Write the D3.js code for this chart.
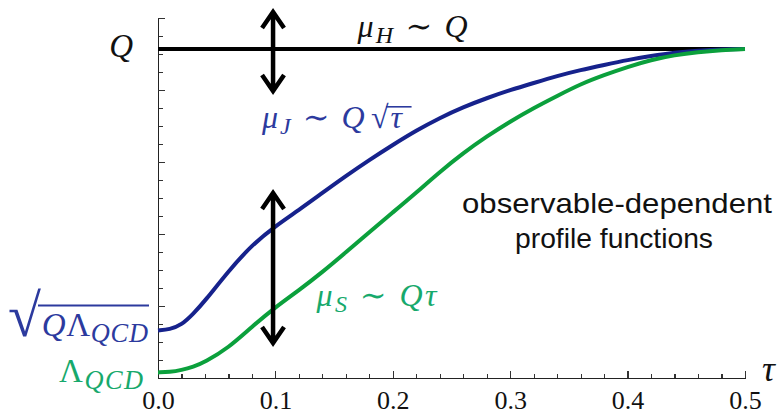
<!DOCTYPE html>
<html>
<head>
<meta charset="utf-8">
<title>Profile functions</title>
<script src="https://d3js.org/d3.v7.min.js"></script>
<style>
  body { margin: 0; background: #fff; }
  svg { display: block; background: #fff; }
  .axis path, .axis line { fill: none; stroke: #222; shape-rendering: crispEdges; }
  .axis path { stroke-width: 1.5px; }
  .axis line { stroke: #333; stroke-width: 1.2px; }
  .axis text { font: 26px "Liberation Serif", "Times New Roman", serif; fill: #111; }
  .math { font-family: "Liberation Serif", "Times New Roman", "DejaVu Serif", serif; }
  .note { font: 28px "Liberation Sans", Arial, sans-serif; fill: #111; }
  .curve { fill: none; stroke-width: 4px; }
</style>
</head>
<body>
<div id="chart"></div>
<script>
// values (y in arbitrary units, 0..20 along the axis)
var tau = [0, 0.01, 0.02, 0.03, 0.04, 0.06, 0.08, 0.10, 0.12, 0.14, 0.16, 0.18, 0.20, 0.22,
           0.24, 0.26, 0.28, 0.30, 0.32, 0.34, 0.36, 0.38, 0.40, 0.42, 0.44, 0.46, 0.48, 0.50];
var muJ = [2.64, 2.70, 2.94, 3.56, 4.28, 5.94, 7.39, 8.44, 9.33, 10.28, 11.22, 12.11, 12.95, 13.75,
           14.45, 15.05, 15.55, 16.00, 16.39, 16.78, 17.11, 17.39, 17.67, 17.89, 18.08, 18.19, 18.26, 18.28];
var muS = [0.31, 0.33, 0.44, 0.62, 0.89, 1.67, 2.85, 3.94, 4.87, 5.88, 6.98, 8.10, 9.20, 10.30,
           11.45, 12.50, 13.42, 14.25, 15.00, 15.67, 16.33, 16.83, 17.28, 17.67, 17.94, 18.11, 18.22, 18.28];
var tauH = [0, 0.5];
var muH = [18.28, 18.28];

var xMajor = [0, 0.1, 0.2, 0.3, 0.4, 0.5];
var xTickLabels = ["0.0", "0.1", "0.2", "0.3", "0.4", "0.5"];
var yMajor = [4, 8, 12, 16, 20];

var width = 782, height = 414;
var margin = {top: 18, right: 37, bottom: 36, left: 158};

var x = d3.scaleLinear().domain([0, 0.5]).range([margin.left, width - margin.right]);
var y = d3.scaleLinear().domain([0, 20]).range([height - margin.bottom, margin.top]);

var svg = d3.select("#chart").append("svg")
  .attr("width", width)
  .attr("height", height);

// axes
var xMinor = d3.range(0.02, 0.5, 0.02).filter(function (d) { return Math.abs(d * 10 - Math.round(d * 10)) > 1e-6; });
var yMinor = d3.range(1, 20, 1).filter(function (d) { return d % 4 !== 0; });

svg.append("g")
  .attr("class", "axis")
  .attr("transform", "translate(0," + y(0) + ")")
  .call(d3.axisBottom(x).tickValues(xMinor).tickFormat("").tickSizeInner(-4).tickSizeOuter(0))
  .call(function (g) { g.select(".domain").remove(); });

svg.append("g")
  .attr("class", "axis")
  .attr("transform", "translate(0," + y(0) + ")")
  .call(d3.axisBottom(x).tickValues(xMajor)
    .tickFormat(function (d, i) { return xTickLabels[i]; })
    .tickSizeInner(-7).tickSizeOuter(0).tickPadding(13));

svg.append("g")
  .attr("class", "axis")
  .attr("transform", "translate(" + x(0) + ",0)")
  .call(d3.axisLeft(y).tickValues(yMinor).tickFormat("").tickSizeInner(-5).tickSizeOuter(0))
  .call(function (g) { g.select(".domain").remove(); });

svg.append("g")
  .attr("class", "axis")
  .attr("transform", "translate(" + x(0) + ",0)")
  .call(d3.axisLeft(y).tickValues(yMajor).tickFormat("").tickSizeInner(-7).tickSizeOuter(0));

// curves
var line = d3.line()
  .x(function (d) { return x(d[0]); })
  .y(function (d) { return y(d[1]); })
  .curve(d3.curveBasis);

svg.append("path").attr("class", "curve").attr("stroke", "#000")
  .attr("d", line(d3.zip(tauH, muH)));
svg.append("path").attr("class", "curve").attr("stroke", "#16228c")
  .attr("d", line(d3.zip(tau, muJ)));
svg.append("path").attr("class", "curve").attr("stroke", "#0ba03c")
  .attr("d", line(d3.zip(tau, muS)));

// double arrows
function arrow(t, v0, v1) {
  var px = x(t), top = y(v1), bot = y(v0), hw = 11, hl = 16;
  var p = d3.path();
  p.moveTo(px, top); p.lineTo(px, bot);
  p.moveTo(px - hw, top + hl); p.lineTo(px, top); p.lineTo(px + hw, top + hl);
  p.moveTo(px - hw, bot - hl); p.lineTo(px, bot); p.lineTo(px + hw, bot - hl);
  svg.append("path").attr("d", p.toString())
    .attr("fill", "none").attr("stroke", "#000").attr("stroke-width", 4.5)
    .attr("stroke-linejoin", "miter").attr("stroke-miterlimit", 10);
}
arrow(0.098, 15.94, 20.33);
arrow(0.098, 1.94, 10.28);

// math labels: parts are {t, sub, up, size}
function mathText(px, py, size, color, anchor, parts, subRatio, subShift, len) {
  var t = svg.append("text").attr("class", "math")
    .attr("x", px).attr("y", py)
    .attr("font-size", size).attr("fill", color)
    .attr("text-anchor", anchor);
  if (len) t.attr("textLength", len).attr("lengthAdjust", "spacing");
  var shift = 0;
  return parts.map(function (p) {
    var target = p.sub ? subShift : 0;
    var s = t.append("tspan")
      .attr("dy", target - shift)
      .attr("font-size", p.sub ? size * subRatio : (p.size || size))
      .attr("font-style", p.up ? "normal" : "italic")
      .text(p.t);
    shift = target;
    return s;
  });
}

function overline(span, fromSpan, py, color, extra, w) {
  var a = fromSpan.node().getBBox(), b = span.node().getBBox();
  svg.append("line")
    .attr("x1", a.x + a.width - 3).attr("x2", b.x + b.width + extra)
    .attr("y1", py).attr("y2", py)
    .attr("stroke", color).attr("stroke-width", w);
}

var blueText = "#2c3a9e", greenText = "#17a96c";

// axis value labels
mathText(x(0) - 25, y(muH[0]) + 8, 33, "#111", "end", [{t: "Q"}]);

var sq = mathText(x(0) - 10, y(muJ[0]) + 6, 33, blueText, "end",
  [{t: "√", up: true, size: 60}, {t: "Q"}, {t: "Λ", up: true}, {t: "QCD", sub: true}], 0.8, 6, 140);
overline(sq[3], sq[0], y(muJ[0]) - 25, blueText, 1, 1.8);

mathText(x(0) - 15, y(muS[0]) + 10, 33, greenText, "end",
  [{t: "Λ", up: true}, {t: "QCD", sub: true}], 0.8, 7, 84);

// curve labels
mathText(x(0.170), y(muH[0]) - 12, 32, "#111", "start",
  [{t: "μ"}, {t: "H", sub: true}, {t: " ∼ ", up: true}, {t: "Q"}], 0.75, 6, 110);

var mj = mathText(x(0.0886), y(13.9), 32, blueText, "start",
  [{t: "μ"}, {t: "J", sub: true}, {t: " ∼ ", up: true}, {t: "Q"}, {t: " ", up: true, size: 10},
   {t: "√", up: true}, {t: "τ"}], 0.75, 6, 140);
overline(mj[6], mj[5], y(13.9) - 21, blueText, 8, 1.6);

mathText(x(0.135), y(4.0), 32, greenText, "start",
  [{t: "μ"}, {t: "S", sub: true}, {t: " ∼ ", up: true}, {t: "Q"}, {t: "τ"}], 0.75, 6, 120);

// axis title
mathText(x(0.5) + 17, y(0) + 3, 36, "#111", "start", [{t: "τ"}]);

// note
svg.append("text").attr("class", "note")
  .attr("x", 617).attr("y", 213).attr("text-anchor", "middle")
  .attr("textLength", 310).attr("lengthAdjust", "spacingAndGlyphs")
  .text("observable-dependent");
svg.append("text").attr("class", "note")
  .attr("x", 614).attr("y", 248).attr("text-anchor", "middle")
  .attr("textLength", 198).attr("lengthAdjust", "spacingAndGlyphs")
  .text("profile functions");
</script>
</body>
</html>
